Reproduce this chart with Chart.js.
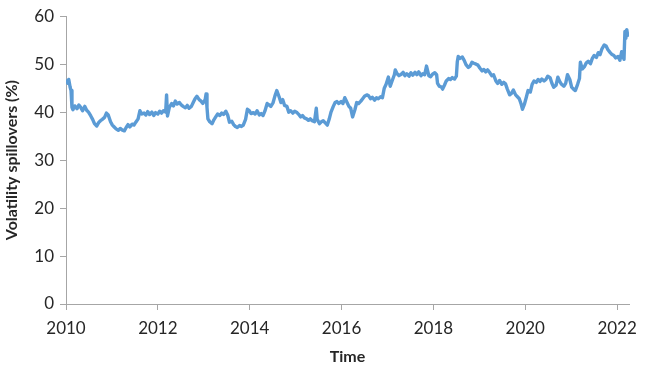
<!DOCTYPE html>
<html>
<head>
<meta charset="utf-8">
<script src="https://cdn.jsdelivr.net/npm/chart.js@4/dist/chart.umd.min.js"></script>
<style>
  html, body { margin: 0; padding: 0; background: #ffffff; }
  #wrap { width: 645px; height: 366px; position: relative; }
</style>
</head>
<body>
<div id="wrap"><canvas id="c" width="645" height="366"></canvas></div>
<script>
// Time (decimal years)
const dates = [
  2010.02,2010.04,2010.06,2010.09,2010.11,2010.13,2010.15,2010.19,2010.24,2010.28,
  2010.32,2010.36,2010.41,2010.45,2010.49,2010.54,2010.58,2010.62,2010.67,2010.71,
  2010.75,2010.79,2010.84,2010.88,2010.92,2010.97,2011.01,2011.05,2011.09,2011.14,
  2011.18,2011.22,2011.27,2011.31,2011.35,2011.39,2011.44,2011.48,2011.52,2011.57,
  2011.61,2011.65,2011.70,2011.74,2011.78,2011.82,2011.87,2011.91,2011.95,2012.00,
  2012.04,2012.08,2012.12,2012.17,2012.19,2012.21,2012.25,2012.30,2012.34,2012.38,
  2012.42,2012.47,2012.51,2012.55,2012.60,2012.64,2012.68,2012.73,2012.77,2012.81,
  2012.85,2012.90,2012.94,2012.98,2013.03,2013.05,2013.07,2013.09,2013.13,2013.18,
  2013.22,2013.26,2013.30,2013.35,2013.39,2013.43,2013.48,2013.52,2013.56,2013.61,
  2013.65,2013.69,2013.73,2013.78,2013.82,2013.86,2013.91,2013.95,2013.99,2014.03,
  2014.08,2014.12,2014.16,2014.21,2014.25,2014.29,2014.33,2014.38,2014.42,2014.46,
  2014.51,2014.55,2014.59,2014.64,2014.68,2014.72,2014.76,2014.81,2014.85,2014.89,
  2014.94,2014.98,2015.02,2015.06,2015.11,2015.15,2015.19,2015.24,2015.28,2015.32,
  2015.36,2015.41,2015.45,2015.47,2015.52,2015.56,2015.60,2015.64,2015.69,2015.73,
  2015.77,2015.82,2015.86,2015.90,2015.94,2015.99,2016.03,2016.07,2016.12,2016.16,
  2016.20,2016.24,2016.29,2016.33,2016.37,2016.42,2016.46,2016.50,2016.55,2016.59,
  2016.63,2016.67,2016.72,2016.76,2016.80,2016.85,2016.89,2016.93,2016.97,2017.02,
  2017.06,2017.10,2017.15,2017.17,2017.21,2017.25,2017.30,2017.34,2017.38,2017.42,
  2017.47,2017.51,2017.55,2017.60,2017.64,2017.68,2017.73,2017.77,2017.81,2017.85,
  2017.90,2017.94,2017.98,2018.03,2018.07,2018.09,2018.13,2018.18,2018.20,2018.24,
  2018.28,2018.33,2018.37,2018.41,2018.46,2018.50,2018.52,2018.54,2018.58,2018.63,
  2018.67,2018.71,2018.76,2018.80,2018.84,2018.88,2018.93,2018.97,2019.01,2019.06,
  2019.10,2019.14,2019.18,2019.23,2019.27,2019.31,2019.36,2019.40,2019.44,2019.49,
  2019.53,2019.57,2019.61,2019.66,2019.70,2019.74,2019.79,2019.83,2019.87,2019.91,
  2019.94,2019.98,2020.02,2020.06,2020.11,2020.15,2020.19,2020.24,2020.28,2020.32,
  2020.36,2020.41,2020.45,2020.49,2020.54,2020.58,2020.62,2020.67,2020.71,2020.75,
  2020.79,2020.84,2020.88,2020.92,2020.97,2021.01,2021.05,2021.09,2021.14,2021.18,
  2021.20,2021.24,2021.29,2021.33,2021.37,2021.42,2021.46,2021.50,2021.55,2021.59,
  2021.63,2021.67,2021.72,2021.76,2021.80,2021.85,2021.89,2021.93,2021.97,2022.02,
  2022.06,2022.10,2022.15,2022.17,2022.19,2022.21,2022.23
];

// Volatility spillovers (%)
const spill = [
  46.5,46.0,46.8,45.2,44.5,41.0,40.5,41.3,40.7,41.5,
  41.0,40.3,41.2,40.4,40.0,39.2,38.5,37.6,37.1,37.8,
  38.2,38.5,38.9,39.8,39.4,38.0,37.3,36.9,36.5,36.2,
  36.6,36.3,36.1,36.8,37.4,36.9,37.5,37.3,37.9,38.6,
  40.3,39.6,39.8,39.4,40.1,39.5,40.0,39.3,39.9,39.6,
  40.2,39.8,40.3,40.0,43.6,39.2,41.0,41.8,41.3,42.3,
  41.7,42.0,41.5,41.2,40.9,41.4,40.8,41.2,42.0,42.8,
  43.3,42.6,42.3,41.8,42.6,43.8,41.0,38.6,38.0,37.6,
  38.4,39.0,39.6,39.3,39.8,39.5,40.2,39.4,37.9,38.1,
  37.4,37.0,36.8,37.2,37.0,37.3,38.5,40.6,40.3,39.7,
  39.9,39.6,40.3,39.4,39.7,39.3,40.2,41.8,41.5,41.2,
  42.0,43.4,44.5,43.2,42.0,42.6,41.4,41.2,40.0,40.3,
  39.8,40.2,40.0,39.6,39.0,39.3,38.8,38.6,38.3,38.6,
  38.2,38.0,40.8,38.5,37.6,38.0,38.2,37.8,37.3,38.5,
  40.0,41.2,42.0,42.2,41.8,42.2,41.8,43.0,42.0,41.2,
  40.8,39.0,40.5,42.0,41.8,42.3,42.8,43.3,43.6,43.4,
  42.8,43.1,42.5,43.0,42.8,43.2,43.0,45.0,45.8,47.3,
  45.4,46.5,47.8,48.8,48.0,47.6,47.9,48.3,47.6,48.0,
  47.5,48.2,47.7,48.3,47.8,48.4,47.6,48.0,47.8,49.6,
  47.6,47.4,47.9,48.2,47.8,46.0,45.4,45.2,44.8,45.6,
  46.5,47.0,46.8,47.2,46.9,47.5,50.5,51.6,51.2,51.5,
  50.8,49.9,49.3,49.6,50.4,50.2,50.0,49.8,49.2,48.6,
  48.9,48.4,48.8,48.2,47.6,47.8,46.5,46.0,46.6,45.8,
  46.2,45.9,44.8,43.6,43.9,44.6,43.6,43.2,42.8,41.7,
  40.6,41.6,43.0,44.5,44.2,45.8,46.5,46.2,46.8,46.4,
  46.9,46.5,46.8,47.5,47.2,46.0,45.2,45.6,47.3,46.4,
  45.8,45.4,46.0,47.8,46.8,45.2,44.8,44.5,45.8,47.0,
  50.4,49.0,49.5,50.3,50.6,50.1,51.2,51.8,51.4,52.4,
  52.0,53.2,54.0,53.8,53.0,52.4,52.0,51.8,51.3,51.6,
  50.8,52.6,51.0,56.8,55.4,57.2,56.0
];

const xTicks = [2010, 2012, 2014, 2016, 2018, 2020, 2022];
const yTicks = [0, 10, 20, 30, 40, 50, 60];
const xTitle = "Time";
const yTitle = "Volatility spillovers (%)";

const points = dates.map((d, i) => ({ x: d, y: spill[i] }));

const axisGray = '#a6a6a6';
const textColor = '#262626';
const tickFont = { family: 'Lato', size: 17 };
const titleFont = { family: 'Lato', size: 16, weight: 'bold' };

new Chart(document.getElementById('c'), {
  type: 'line',
  data: {
    datasets: [{
      data: points,
      borderColor: '#5B9BD5',
      borderWidth: 3.4,
      pointRadius: 0,
      tension: 0,
      fill: false,
      borderJoinStyle: 'round',
      borderCapStyle: 'round'
    }]
  },
  options: {
    responsive: false,
    animation: false,
    events: [],
    layout: { padding: { left: 0, right: 8, top: 6, bottom: 0 } },
    plugins: { legend: { display: false }, tooltip: { enabled: false } },
    scales: {
      x: {
        type: 'linear',
        min: 2010,
        max: 2022.26,
        afterBuildTicks: (s) => { s.ticks = xTicks.map(v => ({ value: v })); },
        afterFit: (s) => { s.height = 62; },
        border: { display: true, color: axisGray, width: 1 },
        grid: { drawOnChartArea: false, drawTicks: true, tickLength: 6, color: axisGray },
        ticks: { color: textColor, font: tickFont, padding: 8, maxRotation: 0, autoSkip: false,
                 callback: (v) => String(v) },
        title: { display: true, text: xTitle, color: textColor, font: titleFont, padding: { top: 0, bottom: 0 } }
      },
      y: {
        type: 'linear',
        min: 0,
        max: 60,
        afterBuildTicks: (s) => { s.ticks = yTicks.map(v => ({ value: v })); },
        afterFit: (s) => { s.width = 66; },
        border: { display: true, color: axisGray, width: 1 },
        grid: { drawOnChartArea: false, drawTicks: true, tickLength: 6, color: axisGray },
        ticks: { color: textColor, font: tickFont, padding: 6, callback: (v) => String(v) },
        title: { display: true, text: yTitle, color: textColor, font: titleFont, padding: { top: 2, bottom: 0 } }
      }
    }
  }
});
</script>
</body>
</html>
